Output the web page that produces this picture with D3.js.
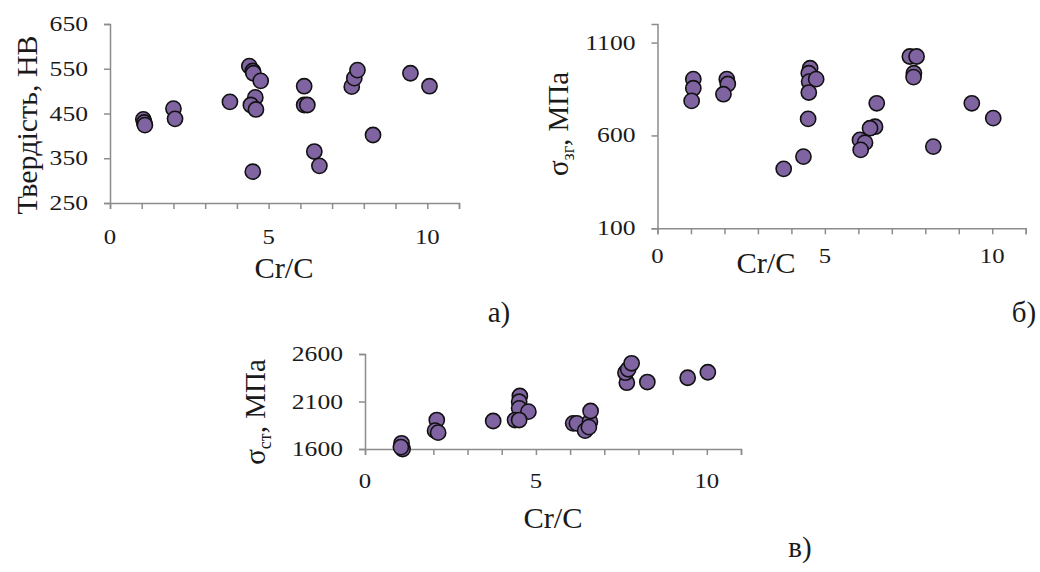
<!DOCTYPE html>
<html>
<head>
<meta charset="utf-8">
<script src="https://cdn.jsdelivr.net/npm/d3@7"></script>
<style>
  body { margin: 0; background: #fff; }
  svg text { font-family: "Liberation Serif", "Times New Roman", serif; fill: #1a1a1a; }
</style>
</head>
<body>
<svg id="chart" width="1040" height="572"></svg>
<script>
// panel а) hardness vs Cr/C
var crA = [1.05, 1.08, 1.1, 2.0, 2.05, 3.78, 4.39, 4.5, 4.52, 4.75, 4.58, 4.44, 4.6, 4.5,
           6.12, 6.12, 6.22, 6.44, 6.6, 7.62, 7.7, 7.8, 8.29, 9.47, 10.07];
var hardness = [437, 430, 424, 461, 438, 476, 556, 545, 540, 523, 486, 469, 459, 320,
                511, 469, 469, 365, 333, 510, 529, 547, 402, 540, 511];

// panel б) sigma_zg vs Cr/C
var crB = [1.07, 1.07, 1.02, 2.07, 2.1, 1.97, 3.77, 4.36, 4.56, 4.52, 4.53, 4.74, 4.52, 4.5,
           6.55, 6.5, 6.35, 6.05, 6.2, 6.07, 7.54, 7.74, 7.66, 7.65, 8.24, 9.39, 10.03];
var sigmaZg = [903, 854, 786, 903, 877, 822, 420, 486, 962, 935, 890, 903, 831, 689,
               773, 647, 639, 576, 561, 522, 1025, 1025, 935, 914, 540, 773, 693];

// panel в) sigma_st vs Cr/C
var crC = [1.07, 1.1, 1.05, 2.1, 2.05, 2.14, 3.75, 4.53, 4.51, 4.51, 4.78, 4.39, 4.51,
           6.09, 6.2, 6.44, 6.58, 6.6, 6.55, 7.66, 7.62, 7.7, 7.8, 8.26, 9.44, 10.03];
var sigmaSt = [1660, 1600, 1620, 1905, 1793, 1772, 1895, 2158, 2098, 2028, 1993, 1905, 1905,
               1870, 1870, 1793, 1888, 2000, 1830, 2298, 2403, 2439, 2502, 2305, 2350, 2408];

var xTicks = [0, 5, 10];
var axisColor = "#8c8c8c";
var markFill = "#8064a2";

var svg = d3.select("#chart");

// text that is a bit wider than the font, like the scanned figure
function wideText(g, x, y, size, sx, anchor, txt) {
  return g.append("text")
    .attr("transform", "translate(" + x + "," + y + ") scale(" + sx + ",1)")
    .attr("text-anchor", anchor)
    .style("font-size", size + "px")
    .text(txt);
}

function panel(opt) {
  var x = d3.scaleLinear().domain([0, 11]).range(opt.xr);
  var y = d3.scaleLinear().domain(opt.yd).range(opt.yr);
  var g = svg.append("g");

  // x axis, minor tick on every unit
  var xa = g.append("g").attr("transform", "translate(0," + opt.yr[0] + ")")
    .call(d3.axisBottom(x).tickValues(d3.range(0, 12)).tickSize(6).tickFormat(""));
  xa.select(".domain").attr("stroke", axisColor).attr("stroke-width", 1.5);
  xa.selectAll(".tick line").attr("stroke", axisColor).attr("stroke-width", 1.5);

  xTicks.forEach(function(d){
    wideText(g, x(d), opt.yr[0] + opt.xtDy, 21, 1.18, "middle", d);
  });

  var ya = g.append("g").attr("transform", "translate(" + opt.xr[0] + ",0)")
    .call(d3.axisLeft(y).tickValues(opt.yTicks).tickSize(6).tickFormat(""));
  ya.select(".domain").attr("stroke", axisColor).attr("stroke-width", 1.5);
  ya.selectAll(".tick line").attr("stroke", axisColor).attr("stroke-width", 1.5);

  opt.yTicks.forEach(function(d){
    wideText(g, opt.xr[0] - 22, y(d) + 7, 21, 1.22, "end", d);
  });

  wideText(g, opt.xlab[0], opt.xlab[1], 29, 1.05, "middle", "Cr/C");

  var yl = g.append("text")
    .attr("transform", "translate(" + opt.ylab[0] + "," + opt.ylab[1] + ") rotate(-90)")
    .attr("text-anchor", "middle")
    .style("font-size", opt.ysize + "px");
  yl.append("tspan").text(opt.ytitle[0]);
  if (opt.ytitle[1]) {
    yl.append("tspan").attr("dy", 6).style("font-size", (opt.ysize * 0.62) + "px").text(opt.ytitle[1]);
    yl.append("tspan").attr("dy", -6).text(opt.ytitle[2]);
  }

  g.append("g").selectAll("circle").data(opt.xs).enter().append("circle")
    .attr("cx", function(d){ return x(d); })
    .attr("cy", function(d, i){ return y(opt.ys[i]); })
    .attr("r", 7.6)
    .attr("fill", markFill)
    .attr("stroke", "#111")
    .attr("stroke-width", 1.6);

  wideText(g, opt.tag[0], opt.tag[1], 29, 1.0, "middle", opt.tag[2]);
}

panel({
  xr: [110, 459], yd: [250, 650], yr: [203, 24], yTicks: [250, 350, 450, 550, 650],
  xs: crA, ys: hardness, xtDy: 41, xlab: [284, 278], ylab: [37, 125], ysize: 30,
  ytitle: ["Твердість, НВ"], tag: [499, 322, "а)"]
});

panel({
  xr: [657.5, 1025.7], yd: [100, 1200], yr: [228.3, 24], yTicks: [100, 600, 1100],
  xs: crB, ys: sigmaZg, xtDy: 35, xlab: [766, 273], ylab: [568, 124], ysize: 29,
  ytitle: ["σ", "зг", ", МПа"], tag: [1024, 322, "б)"]
});

panel({
  xr: [365, 741], yd: [1600, 2600], yr: [449, 354], yTicks: [1600, 2100, 2600],
  xs: crC, ys: sigmaSt, xtDy: 39, xlab: [553, 528], ylab: [265, 412], ysize: 29,
  ytitle: ["σ", "ст", ", МПа"], tag: [800, 557, "в)"]
});
</script>
</body>
</html>
